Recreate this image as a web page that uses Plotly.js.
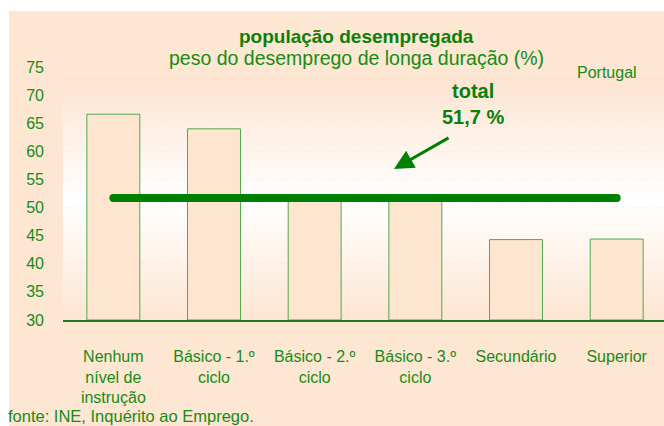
<!DOCTYPE html>
<html>
<head>
<meta charset="utf-8">
<script src="https://cdn.plot.ly/plotly-3.0.1.min.js"></script>
<style>
  html, body { margin: 0; padding: 0; background: #ffffff; overflow: hidden; width: 664px; height: 426px; }
  #box { position: absolute; left: 9px; top: 11px; width: 660px; height: 420px; background: #FDE6D2; }
  #grad { position: absolute; left: 63px; top: 77px; width: 604px; height: 243px;
          background: linear-gradient(to bottom, #FCE4D0 0%, #FFFFFF 50%, #FFFFFF 52%, #FDE6D2 100%); }
  #chart { position: absolute; left: 0; top: 0; }
</style>
</head>
<body>
<div id="box"></div>
<div id="grad"></div>
<div id="chart"></div>
<script>
// Data
const categories = [
  "Nenhum<br>nível de<br>instrução",
  "Básico - 1.º<br>ciclo",
  "Básico - 2.º<br>ciclo",
  "Básico - 3.º<br>ciclo",
  "Secundário",
  "Superior"
];
const values = [66.6, 64.0, 51.3, 51.4, 44.3, 44.4];
const totalValue = 51.7;
const yTicks = [30, 35, 40, 45, 50, 55, 60, 65, 70, 75];
const axisBase = 30;

const FONT = "Liberation Sans, Arial, sans-serif";
const GREEN_TXT = "#168c16";
const GREEN_BOLD = "#0a800a";
const GREEN_LINE = "#008000";

const bars = {
  type: "bar",
  x: categories,
  y: values.map(v => v - axisBase),
  base: axisBase,
  marker: { color: "#FDE5D0", line: { color: "#4faa4f", width: 1 } },
  hoverinfo: "skip"
};

const totalLine = {
  type: "scatter",
  mode: "lines+markers",
  x: [categories[0], categories[categories.length - 1]],
  y: [totalValue, totalValue],
  line: { color: GREEN_LINE, width: 8 },
  marker: { color: GREEN_LINE, size: 8, line: { width: 0 } },
  hoverinfo: "skip"
};

const layout = {
  width: 667,
  height: 426,
  margin: { l: 63, r: 0, t: 67, b: 106 },
  paper_bgcolor: "rgba(0,0,0,0)",
  plot_bgcolor: "rgba(0,0,0,0)",
  showlegend: false,
  bargap: 0.474,
  font: { family: FONT, color: GREEN_TXT, size: 16 },
  title: {
    text: "<b>população desempregada</b>",
    font: { family: FONT, size: 19, color: GREEN_BOLD },
    x: 0.534, xref: "container", xanchor: "center",
    y: 1 - 36 / 426, yref: "container", yanchor: "middle"
  },
  xaxis: {
    type: "category",
    showline: true,
    linecolor: "#1f7a1f",
    linewidth: 1.5,
    ticks: "",
    ticklabelstandoff: 21,
    tickfont: { family: FONT, size: 16, color: GREEN_TXT },
    showgrid: false,
    zeroline: false,
    fixedrange: true
  },
  yaxis: {
    range: [30, 75],
    tickvals: yTicks,
    ticktext: yTicks.map(String),
    ticks: "",
    ticklabelstandoff: 18,
    tickfont: { family: FONT, size: 16, color: GREEN_TXT },
    showgrid: true,
    gridcolor: "rgba(246,214,190,0.3)",
    griddash: "dot",
    gridwidth: 1,
    showline: false,
    zeroline: false,
    fixedrange: true
  },
  annotations: [
    {
      text: "peso do desemprego de longa duração (%)",
      xref: "paper", yref: "paper",
      x: (356 - 63) / 604, y: (320 - 58) / 253,
      xanchor: "center", yanchor: "middle",
      showarrow: false,
      font: { family: FONT, size: 19.5, color: GREEN_TXT }
    },
    {
      text: "Portugal",
      xref: "paper", yref: "paper",
      x: (607 - 63) / 604, y: (320 - 72) / 253,
      xanchor: "center", yanchor: "middle",
      showarrow: false,
      font: { family: FONT, size: 16, color: GREEN_TXT }
    },
    {
      text: "<b>total<br>" + totalValue.toFixed(1).replace(".", ",") + " %</b>",
      xref: "paper", yref: "paper",
      x: (473 - 63) / 604, y: (320 - 104) / 253,
      xanchor: "center", yanchor: "middle",
      showarrow: false,
      font: { family: FONT, size: 20, color: GREEN_BOLD }
    },
    {
      text: "",
      xref: "paper", yref: "paper",
      x: (394 - 63) / 604, y: (320 - 169) / 253,
      ax: 56, ay: -32,
      showarrow: true,
      arrowhead: 2,
      arrowsize: 1.3,
      arrowwidth: 3,
      arrowcolor: GREEN_LINE,
      standoff: 0
    },
    {
      text: "fonte: INE, Inquérito ao Emprego.",
      xref: "paper", yref: "paper",
      x: (6 - 63) / 604, y: (320 - 416) / 253,
      xanchor: "left", yanchor: "middle",
      showarrow: false,
      font: { family: FONT, size: 16.5, color: GREEN_TXT }
    }
  ]
};

Plotly.newPlot("chart", [bars, totalLine], layout, { displayModeBar: false, staticPlot: true });
</script>
</body>
</html>
